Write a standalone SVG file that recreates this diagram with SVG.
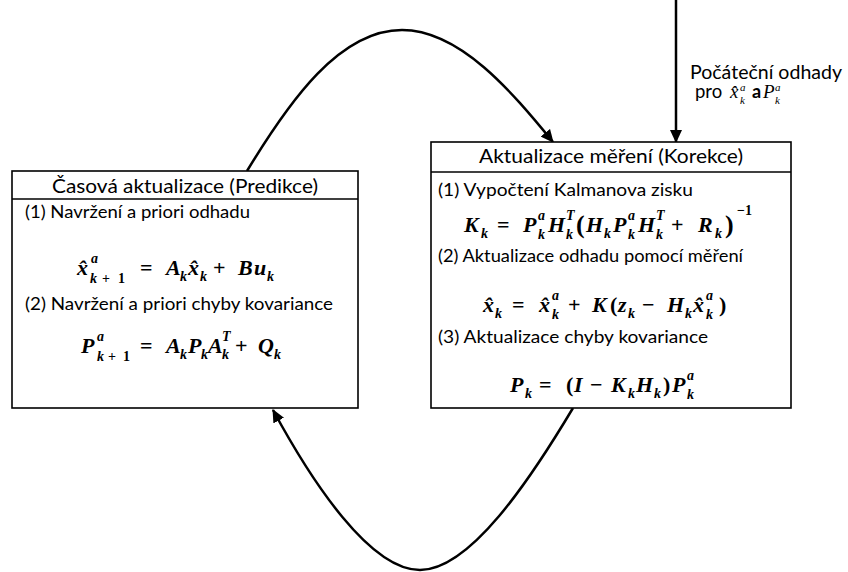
<svg xmlns="http://www.w3.org/2000/svg" width="848" height="572" viewBox="0 0 848 572">
<defs>
<marker id="ah" markerWidth="13" markerHeight="12" viewBox="0 0 13 12" refX="12" refY="6" orient="auto" markerUnits="userSpaceOnUse">
<path d="M0,0 L13,6 L0,12 Z" fill="#000"/>
</marker>
<style>
.box{fill:#fff;stroke:#000;stroke-width:1.6}
.t{font-family:Lato,"Liberation Sans",sans-serif;fill:#000}
.h{font-size:20px}
.i{font-size:17.5px}
.m{font-family:"Liberation Serif","DejaVu Serif",serif;font-style:italic;font-weight:bold;font-size:22px;fill:#000}
.s{font-size:14px}
.u{font-style:normal}
.c{fill:none;stroke:#000;stroke-width:2.5}
.ml{font-family:"Liberation Serif","DejaVu Serif",serif;font-style:italic;font-size:19px;fill:#000}
.ms{font-size:11px}
</style>
</defs>
<g id="connectors">
<path class="c" d="M676,0 L676,142" marker-end="url(#ah)"/>
<path class="c" d="M247,171 C290,100 340,30 402,30 C460,30 512,92 553,142" marker-end="url(#ah)"/>
<path class="c" d="M573,408 C530,480 470,570 420,570 C370,570 312,482 273,410" marker-end="url(#ah)"/>
</g>
<g id="label-initial">
<text class="t" x="690" y="79" font-size="18.5" textLength="152" lengthAdjust="spacingAndGlyphs">Počáteční odhady</text>
<text class="t" x="695" y="98" font-size="18.5">pro</text>
<text class="ml" x="730" y="98">x̂</text>
<text class="ml ms" x="740" y="91">a</text>
<text class="ml ms" x="740" y="104">k</text>
<text class="t" x="752" y="98" font-size="18" font-weight="bold">a</text>
<text class="ml" x="763" y="98">P</text>
<text class="ml ms" x="775" y="91">a</text>
<text class="ml ms" x="775" y="104">k</text>
</g>
<g id="node-prediction">
<rect class="box" x="12" y="171" width="346" height="237"/>
<line x1="12" y1="199" x2="358" y2="199" stroke="#000" stroke-width="1.6"/>
<text class="t h" x="185" y="193" text-anchor="middle" textLength="266" lengthAdjust="spacingAndGlyphs">Časová aktualizace (Predikce)</text>
<text class="t i" x="25" y="218" textLength="225" lengthAdjust="spacingAndGlyphs">(1) Navržení a priori odhadu</text>
<g class="m">
<text x="77" y="275">x̂</text>
<text class="s" x="91" y="263">a</text>
<text class="s" x="90" y="283">k</text><text class="s u" x="102" y="283">+</text><text class="s u" x="118" y="283">1</text>
<text class="u" x="140" y="275">=</text>
<text x="166" y="275">A</text><text class="s" x="180" y="281">k</text>
<text x="188" y="275">x̂</text><text class="s" x="200" y="281">k</text>
<text class="u" x="213" y="275">+</text>
<text x="238" y="275">B</text><text x="254" y="275">u</text><text class="s" x="267" y="281">k</text>
</g>
<text class="t i" x="25" y="310" textLength="308" lengthAdjust="spacingAndGlyphs">(2) Navržení a priori chyby kovariance</text>
<g class="m">
<text x="81" y="353">P</text>
<text class="s" x="97" y="341">a</text>
<text class="s" x="97" y="361">k</text><text class="s u" x="108" y="361">+</text><text class="s u" x="123" y="361">1</text>
<text class="u" x="140" y="353">=</text>
<text x="166" y="353">A</text><text class="s" x="180" y="359">k</text>
<text x="188" y="353">P</text><text class="s" x="201" y="359">k</text>
<text x="208" y="353">A</text><text class="s" x="222" y="341">T</text><text class="s" x="222" y="359">k</text>
<text class="u" x="235" y="353">+</text>
<text x="258" y="353">Q</text><text class="s" x="274" y="359">k</text>
</g>
</g>
<g id="node-correction">
<rect class="box" x="431" y="142" width="360" height="266"/>
<line x1="431" y1="172" x2="791" y2="172" stroke="#000" stroke-width="1.6"/>
<text class="t h" x="611" y="163" text-anchor="middle" textLength="264" lengthAdjust="spacingAndGlyphs">Aktualizace měření (Korekce)</text>
<text class="t i" x="438" y="196" textLength="255" lengthAdjust="spacingAndGlyphs">(1) Vypočtení Kalmanova zisku</text>
<g class="m">
<text x="464" y="232">K</text><text class="s" x="481" y="238">k</text>
<text class="u" x="497" y="232">=</text>
<text x="523" y="232">P</text><text class="s" x="538" y="220">a</text><text class="s" x="538" y="239">k</text>
<text x="548" y="232">H</text><text class="s" x="566" y="220">T</text><text class="s" x="566" y="239">k</text>
<text class="u" x="576" y="233" font-size="26">(</text>
<text x="586" y="232">H</text><text class="s" x="604" y="238">k</text>
<text x="613" y="232">P</text><text class="s" x="628" y="220">a</text><text class="s" x="628" y="239">k</text>
<text x="638" y="232">H</text><text class="s" x="656" y="220">T</text><text class="s" x="656" y="239">k</text>
<text class="u" x="671" y="232">+</text>
<text x="698" y="232">R</text><text class="s" x="715" y="238">k</text>
<text class="u" x="725" y="233" font-size="26">)</text>
<text class="s u" x="737" y="215">−1</text>
</g>
<text class="t i" x="438" y="262" textLength="305" lengthAdjust="spacingAndGlyphs">(2) Aktualizace odhadu pomocí měření</text>
<g class="m">
<text x="483" y="312">x̂</text><text class="s" x="495" y="318">k</text>
<text class="u" x="512" y="312">=</text>
<text x="539" y="312">x̂</text><text class="s" x="552" y="300">a</text><text class="s" x="552" y="319">k</text>
<text class="u" x="568" y="312">+</text>
<text x="592" y="312">K</text>
<text class="u" x="610" y="312">(</text>
<text x="618" y="312">z</text><text class="s" x="628" y="318">k</text>
<text class="u" x="642" y="312">−</text>
<text x="667" y="312">H</text><text class="s" x="685" y="318">k</text>
<text x="693" y="312">x̂</text><text class="s" x="706" y="300">a</text><text class="s" x="706" y="319">k</text>
<text class="u" x="719" y="312">)</text>
</g>
<text class="t i" x="438" y="343" textLength="270" lengthAdjust="spacingAndGlyphs">(3) Aktualizace chyby kovariance</text>
<g class="m">
<text x="510" y="392">P</text><text class="s" x="525" y="398">k</text>
<text class="u" x="539" y="392">=</text>
<text class="u" x="566" y="392">(</text>
<text x="574" y="392">I</text>
<text class="u" x="590" y="392">−</text>
<text x="611" y="392">K</text><text class="s" x="628" y="398">k</text>
<text x="636" y="392">H</text><text class="s" x="654" y="398">k</text>
<text class="u" x="663" y="392">)</text>
<text x="672" y="392">P</text><text class="s" x="687" y="380">a</text><text class="s" x="687" y="399">k</text>
</g>
</g>
</svg>
